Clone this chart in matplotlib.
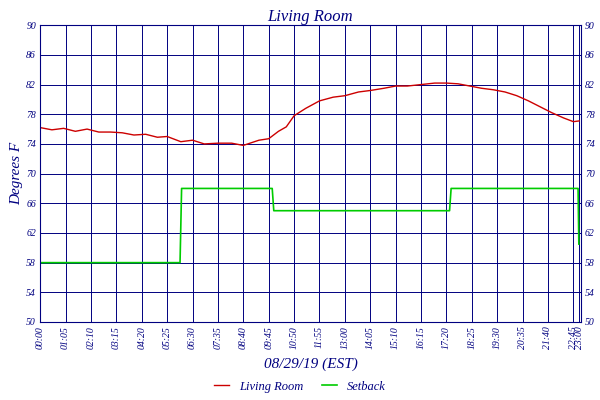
import matplotlib.pyplot as plt

# minutes since midnight
temp_t = [0, 30, 60, 90, 120, 150, 180, 210, 240, 270, 300, 325, 360, 390, 420, 455, 490, 520,
          560, 585, 610, 630, 650, 680, 715, 750, 780, 815, 845, 880, 910, 940, 975,
          1010, 1040, 1070, 1100, 1130, 1160, 1190, 1220, 1250, 1280, 1310, 1340, 1365, 1380]
temp_v = [76.2, 75.9, 76.1, 75.7, 76.0, 75.6, 75.6, 75.5, 75.2, 75.3, 74.9, 75.0, 74.3, 74.5, 74.0,
          74.1, 74.1, 73.8, 74.5, 74.7, 75.7, 76.3, 77.8, 78.8, 79.8, 80.3, 80.5, 81.0, 81.2, 81.5,
          81.8, 81.8, 82.0, 82.2, 82.2, 82.1, 81.8, 81.5, 81.3, 81.0, 80.5, 79.8, 79.0, 78.2, 77.5, 77.0, 77.1]

set_t = [0, 358, 362, 594, 598, 1048, 1052, 1377, 1379]
set_v = [58, 58, 68, 68, 65, 65, 68, 68, 60.5]

xtick_labels = ["00:00", "01:05", "02:10", "03:15", "04:20", "05:25", "06:30", "07:35", "08:40",
                "09:45", "10:50", "11:55", "13:00", "14:05", "15:10", "16:15", "17:20", "18:25",
                "19:30", "20:35", "21:40", "22:45", "23:00"]
xticks = [i * 65 for i in range(22)] + [1380]
yticks = list(range(50, 91, 4))

navy = "#000080"
font = "Liberation Serif"

fig, ax = plt.subplots(figsize=(6, 4), dpi=100)
fig.subplots_adjust(left=0.067, right=0.968, top=0.937, bottom=0.195)

ax.plot(temp_t, temp_v, color="#cc0000", lw=1)
ax.plot(set_t, set_v, color="#00cc00", lw=1.2)

ax.set_xlim(0, 1384)
ax.set_ylim(50, 90)
ax.set_xticks(xticks)
ax.set_xticklabels(xtick_labels, rotation=90, fontsize=7, color=navy, family=font, style="italic")
ax.set_yticks(yticks)
ax.set_yticklabels(yticks, fontsize=7, color=navy, family=font, style="italic")
ax.tick_params(axis="y", which="both", labelright=True, length=0, pad=3)
ax.tick_params(axis="x", length=0, pad=3)
ax.grid(True, color=navy, lw=0.7)
for s in ax.spines.values():
    s.set_color(navy)

ax.set_title("Living Room", color=navy, family=font, style="italic", fontsize=12, pad=3)
ax.set_ylabel("Degrees F", color=navy, family=font, style="italic", fontsize=11, labelpad=2)
ax.set_xlabel("08/29/19 (EST)", color=navy, family=font, style="italic", fontsize=11, labelpad=6)

leg = fig.legend(["Living Room", "Setback"], loc="lower center", ncol=2, frameon=False,
                 bbox_to_anchor=(0.5, -0.01), prop={"family": font, "style": "italic", "size": 9},
                 handlelength=1.2, columnspacing=1.5)
for t in leg.get_texts():
    t.set_color(navy)

fig.savefig("out.png")
